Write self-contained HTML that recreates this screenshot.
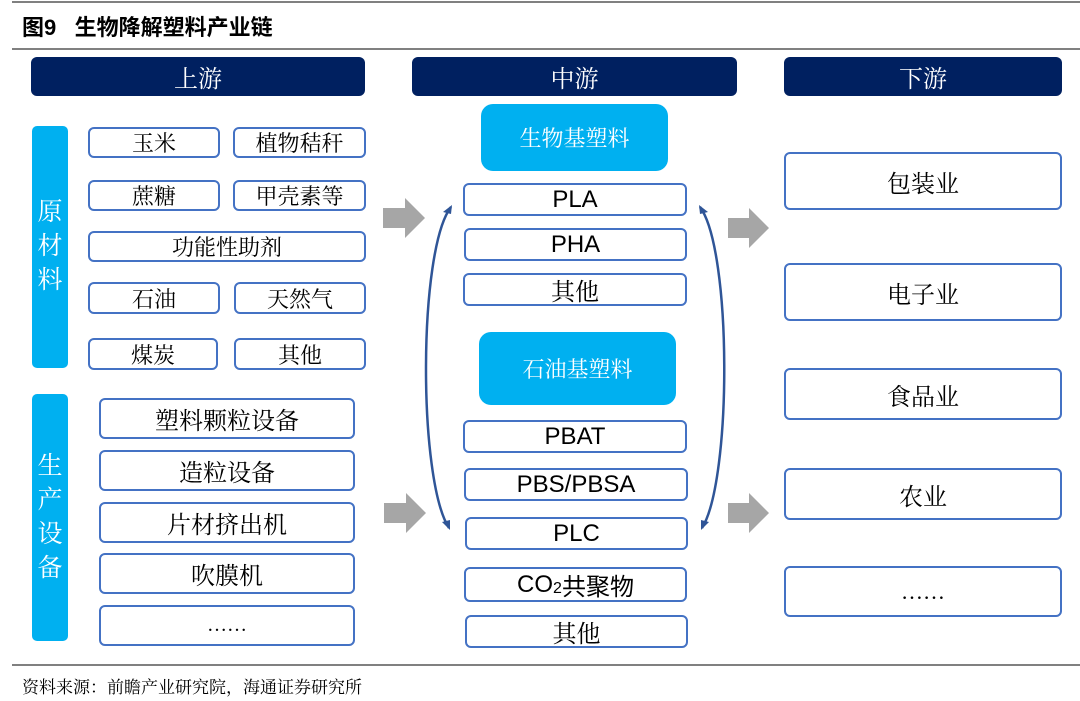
<!DOCTYPE html>
<html><head><meta charset="utf-8"><style>
body{margin:0;width:1080px;height:701px;background:#fff;position:relative;overflow:hidden;font-family:"Liberation Serif","Noto Serif CJK SC",serif}
div{position:absolute;box-sizing:border-box;display:flex;align-items:center;justify-content:center;text-align:center}
.h{background:#002060;color:#fff;border-radius:6px;font-size:24px}
.b{border:2px solid #4472C4;border-radius:6px;background:#fff;font-size:22px;color:#000}
.s{font-family:"Liberation Sans","Noto Sans CJK SC",sans-serif;font-size:24px}
.c{background:#00B0F0;color:#fff;border-radius:12px;font-size:22px}
.v{background:#00B0F0;color:#fff;border-radius:5px;font-size:25px;line-height:34px;flex-direction:column}
.ln{height:2px;background:#808080;left:12px;right:0;display:block}
</style></head><body>
<div class="ln" style="top:1px;height:2px"></div>
<div style="left:22px;top:8px;height:36px;font-size:22px;font-weight:bold;font-family:'Liberation Sans','Noto Sans CJK SC',sans-serif;justify-content:flex-start">图9&nbsp;&nbsp;&nbsp;生物降解塑料产业链</div>
<div class="ln" style="top:48px"></div>

<div class="h" style="left:31px;top:57px;width:334px;height:39px">上游</div>
<div class="h" style="left:412px;top:57px;width:325px;height:39px">中游</div>
<div class="h" style="left:784px;top:57px;width:278px;height:39px">下游</div>

<div class="v" style="left:32px;top:126px;width:36px;height:242px"><span>原</span><span>材</span><span>料</span></div>
<div class="v" style="left:32px;top:394px;width:36px;height:247px"><span>生</span><span>产</span><span>设</span><span>备</span></div>

<div class="b" style="left:88px;top:127px;width:132px;height:31px">玉米</div>
<div class="b" style="left:233px;top:127px;width:133px;height:31px">植物秸秆</div>
<div class="b" style="left:88px;top:180px;width:132px;height:31px">蔗糖</div>
<div class="b" style="left:233px;top:180px;width:133px;height:31px">甲壳素等</div>
<div class="b" style="left:88px;top:231px;width:278px;height:31px">功能性助剂</div>
<div class="b" style="left:88px;top:282px;width:132px;height:32px">石油</div>
<div class="b" style="left:234px;top:282px;width:132px;height:32px">天然气</div>
<div class="b" style="left:88px;top:338px;width:130px;height:32px">煤炭</div>
<div class="b" style="left:234px;top:338px;width:132px;height:32px">其他</div>

<div class="b" style="left:99px;top:398px;width:256px;height:41px;font-size:24px">塑料颗粒设备</div>
<div class="b" style="left:99px;top:450px;width:256px;height:41px;font-size:24px">造粒设备</div>
<div class="b" style="left:99px;top:502px;width:256px;height:41px;font-size:24px">片材挤出机</div>
<div class="b" style="left:99px;top:553px;width:256px;height:41px;font-size:24px">吹膜机</div>
<div class="b" style="left:99px;top:605px;width:256px;height:41px;font-size:20px">……</div>

<div class="c" style="left:481px;top:104px;width:187px;height:67px">生物基塑料</div>
<div class="b s" style="left:463px;top:183px;width:224px;height:33px">PLA</div>
<div class="b s" style="left:464px;top:228px;width:223px;height:33px">PHA</div>
<div class="b" style="left:463px;top:273px;width:224px;height:33px;font-size:24px">其他</div>
<div class="c" style="left:479px;top:332px;width:197px;height:73px">石油基塑料</div>
<div class="b s" style="left:463px;top:420px;width:224px;height:33px">PBAT</div>
<div class="b s" style="left:464px;top:468px;width:224px;height:33px">PBS/PBSA</div>
<div class="b s" style="left:465px;top:517px;width:223px;height:33px">PLC</div>
<div class="b s" style="left:464px;top:567px;width:223px;height:35px">CO<sub style="font-size:16px;position:relative;top:4px">2</sub>共聚物</div>
<div class="b" style="left:465px;top:615px;width:223px;height:33px;font-size:24px">其他</div>

<div class="b" style="left:784px;top:152px;width:278px;height:58px;font-size:24px">包装业</div>
<div class="b" style="left:784px;top:263px;width:278px;height:58px;font-size:24px">电子业</div>
<div class="b" style="left:784px;top:368px;width:278px;height:52px;font-size:24px">食品业</div>
<div class="b" style="left:784px;top:468px;width:278px;height:52px;font-size:24px">农业</div>
<div class="b" style="left:784px;top:566px;width:278px;height:51px;font-size:22px">……</div>

<svg style="position:absolute;left:0;top:0" width="1080" height="701">
<g fill="#A6A6A6">
<polygon points="383,208 405,208 405,198 425,218 405,238 405,228 383,228"/>
<polygon points="384,503 406,503 406,493 426,513 406,533 406,523 384,523"/>
<polygon points="728,218 749,218 749,208 769,228 749,248 749,238 728,238"/>
<polygon points="728,503 749,503 749,493 769,513 749,533 749,523 728,523"/>
</g>
<g fill="none" stroke="#2F5597" stroke-width="2.5">
<path d="M451,207 C418,250 418,480 449,528"/>
<path d="M700,207 C732,250 732,480 702,528"/>
</g>
<g fill="#2F5597">
<polygon points="452,205 443,212 451,214"/>
<polygon points="450,530 442,522 450,520"/>
<polygon points="699,205 708,212 700,214"/>
<polygon points="701,530 709,522 701,520"/>
</g>
</svg>

<div class="ln" style="top:664px;height:2px"></div>
<div style="left:22px;top:672px;height:26px;font-size:17px;justify-content:flex-start">资料来源：前瞻产业研究院，海通证券研究所</div>
</body></html>
